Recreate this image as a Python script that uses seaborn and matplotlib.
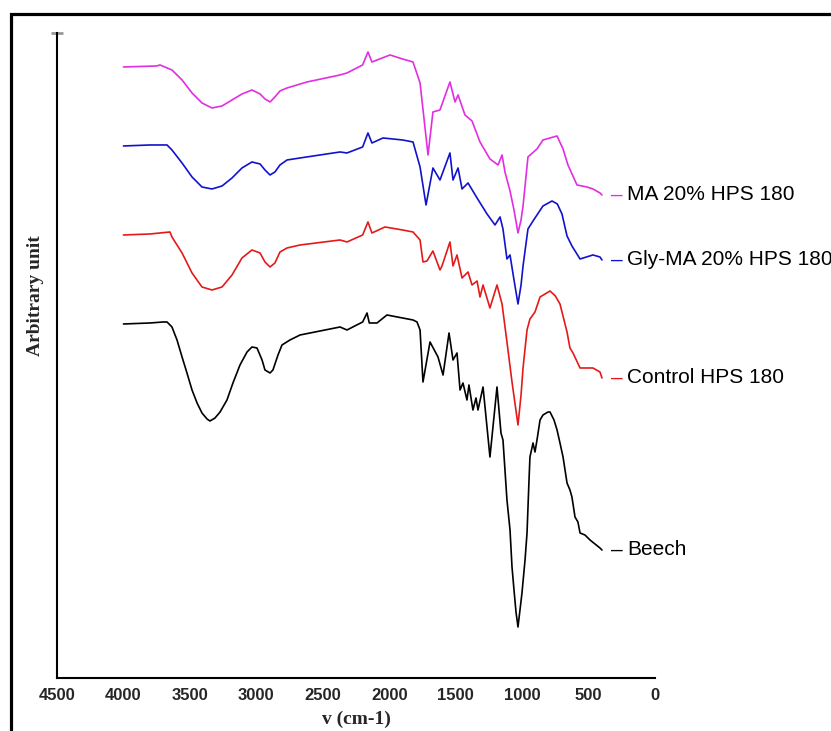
import matplotlib.pyplot as plt
from matplotlib.patches import Rectangle
import seaborn as sns
import pandas as pd

# FTIR spectra (wavenumber cm-1, arbitrary intensity, already offset)
beech_wn = [4000, 3800, 3700, 3672, 3635, 3597, 3559, 3522, 3484, 3446, 3409, 3371, 3349, 3311,
            3273, 3221, 3176, 3123, 3070, 3033, 2995, 2957, 2935, 2897, 2875, 2837, 2807, 2747,
            2671, 2370, 2318, 2200, 2167, 2150, 2092, 2017, 1900, 1821, 1791,
            1768, 1746, 1693, 1633, 1595, 1550, 1520, 1490, 1467, 1445, 1415, 1400, 1370, 1347,
            1332, 1294, 1242, 1189, 1159, 1144, 1114, 1091, 1076, 1061, 1046, 1031, 1016, 1001,
            978, 963, 948, 941, 926, 918, 903, 888, 865, 843, 805, 790, 760, 737, 715, 692, 677,
            662, 640, 625, 602, 580, 564, 527, 489, 414, 399]
beech_y = [376, 377, 378, 378, 373, 360, 343, 327, 310, 297, 287, 281, 279, 282,
           288, 300, 317, 335, 348, 353, 352, 340, 330, 327, 330, 345, 355, 360,
           365, 373, 370, 378, 387, 377, 377, 385, 382, 380, 378,
           370, 318, 358, 343, 325, 367, 340, 347, 310, 317, 300, 315, 290, 302,
           290, 313, 243, 313, 267, 260, 200, 170, 133, 110, 88, 73, 90, 107,
           140, 167, 220, 243, 252, 257, 248, 260, 280, 285, 288, 288, 280, 270, 257, 243, 230,
           217, 210, 203, 183, 178, 167, 165, 160, 152, 150]

control_wn = [4000, 3800, 3650, 3635, 3559, 3484, 3409, 3334, 3258, 3183, 3108, 3033, 2972, 2935,
              2897, 2860, 2822, 2769, 2671, 2370, 2318, 2200, 2160, 2130, 2032, 1900, 1821, 1768,
              1746, 1716, 1671, 1618, 1603, 1543, 1520, 1490, 1452, 1407, 1377, 1339, 1317, 1294,
              1242, 1189, 1151, 1114, 1076, 1031, 1008, 993, 963, 941, 903, 865, 790, 750, 715,
              662, 640, 617, 564, 467, 414, 399]
control_y = [465, 466, 468, 463, 447, 427, 413, 410, 413, 425, 442, 450, 447, 438,
             433, 437, 448, 452, 455, 460, 458, 465, 478, 467, 473, 470, 468, 460,
             438, 439, 449, 430, 434, 458, 434, 445, 422, 428, 415, 419, 403, 415,
             392, 415, 396, 358, 318, 275, 305, 332, 370, 381, 388, 403, 409, 404, 396,
             368, 352, 347, 332, 332, 328, 322]

glyma_wn = [4000, 3800, 3672, 3635, 3559, 3484, 3409, 3334, 3258, 3183, 3108, 3033, 2972, 2935,
            2897, 2860, 2822, 2769, 2671, 2370, 2318, 2200, 2160, 2130, 2047, 1900, 1821, 1768,
            1723, 1671, 1618, 1543, 1520, 1482, 1452, 1407, 1339, 1264, 1204, 1166, 1144, 1114,
            1091, 1061, 1031, 1008, 993, 956, 918, 843, 775, 735, 700, 662, 625, 564, 467, 414,
            399]
glyma_y = [554, 555, 555, 550, 537, 523, 513, 511, 514, 522, 532, 538, 536, 530,
           525, 528, 535, 540, 542, 548, 547, 553, 567, 557, 562, 560, 558, 533,
           495, 532, 520, 547, 520, 532, 511, 517, 502, 486, 475, 483, 471, 441,
           445, 420, 396, 415, 434, 471, 479, 494, 499, 496, 486, 464, 454, 441, 445, 443,
           440]

ma_wn = [4000, 3750, 3725, 3635, 3559, 3484, 3409, 3334, 3258, 3183, 3108, 3033, 2972, 2935,
         2897, 2860, 2822, 2769, 2619, 2370, 2318, 2200, 2160, 2130, 1994, 1900, 1821, 1768,
         1708, 1671, 1618, 1543, 1505, 1482, 1430, 1377, 1317, 1242, 1181, 1151, 1129, 1091,
         1061, 1031, 1008, 993, 956, 888, 843, 737, 692, 655, 587, 512, 467, 414, 399]
ma_y = [633, 634, 635, 630, 620, 607, 597, 592, 594, 600, 606, 610, 606, 601,
        598, 603, 609, 612, 618, 625, 627, 635, 648, 638, 645, 641, 638, 617,
        545, 588, 590, 618, 598, 605, 585, 579, 558, 541, 535, 545, 528, 509,
        490, 467, 480, 494, 543, 551, 560, 564, 551, 535, 515, 513, 511, 507, 505]

samples = ["MA 20% HPS 180", "Gly-MA 20% HPS 180", "Control HPS 180", "Beech"]
colors = ["#e22ee2", "#1212cc", "#e41a1a", "#000000"]
spectra = [(ma_wn, ma_y), (glyma_wn, glyma_y), (control_wn, control_y), (beech_wn, beech_y)]

df = pd.concat([pd.DataFrame({"wavenumber": wn, "intensity": y, "sample": name})
                for name, (wn, y) in zip(samples, spectra)], ignore_index=True)

sns.set_style("white")
plt.rcParams['font.family'] = ['Liberation Sans', 'DejaVu Sans']

fig = plt.figure(figsize=(8.31, 7.31), dpi=100)
ax = fig.add_axes([0.0686, 0.0725, 0.7196, 0.8824])

sns.lineplot(data=df, x="wavenumber", y="intensity", hue="sample", palette=dict(zip(samples, colors)),
             estimator=None, legend=False, linewidth=1.2, ax=ax)

ax.set_xlim(4500, 0)
ax.set_ylim(22, 667)
ax.set_xticks(range(0, 4501, 500))
ax.tick_params(axis='x', length=0, pad=7, labelsize=12)
for lbl in ax.get_xticklabels():
    lbl.set_fontweight('bold')
ax.set_yticks([667])
ax.set_yticklabels([])
ax.tick_params(axis='y', left=True, length=8, width=2, color='#999999', direction='inout')
sns.despine(ax=ax)
for s in ['left', 'bottom']:
    ax.spines[s].set_linewidth(1.5)
    ax.spines[s].set_color('black')

ax.set_xlabel("v (cm-1)", family='Liberation Serif', fontweight='bold', fontsize=14, labelpad=6)
ax.set_ylabel("")
fig.text(36 / 831, 1 - 296 / 731, "Arbitrary unit", family='Liberation Serif', fontweight='bold',
         fontsize=14, rotation=90, ha='center', va='center')

# end labels: coloured dash + black name
for name, col, (wn, y) in zip(samples, colors, spectra):
    ax.annotate("–", xy=(wn[-1], y[-1]), xytext=(9, 0), textcoords='offset pixels',
                color=col, fontsize=15, va='center', ha='left', annotation_clip=False)
    ax.annotate(name, xy=(wn[-1], y[-1]), xytext=(25, 0), textcoords='offset pixels',
                color='black', fontsize=15, va='center', ha='left', annotation_clip=False)

# outer frame (runs off the right and bottom edges like the original)
fig.patches.append(Rectangle((11 / 831, -0.1), 1.2, 1.1 - 13.5 / 731, transform=fig.transFigure,
                             fill=False, edgecolor='black', linewidth=2.3))

fig.savefig("out.png", dpi=100)
